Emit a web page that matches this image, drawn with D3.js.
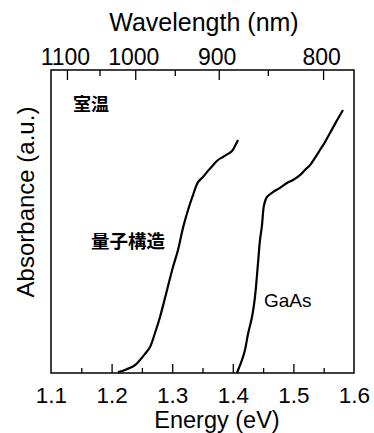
<!DOCTYPE html>
<html><head><meta charset="utf-8">
<script src="https://cdn.jsdelivr.net/npm/d3@7"></script>
<style>
html,body{margin:0;padding:0;background:#fff;}
text{font-family:"Liberation Sans",Arial,sans-serif;fill:#000;}
.cjk{font-family:"Noto Sans CJK JP","Noto Sans CJK SC",sans-serif;font-weight:bold;}
</style></head>
<body>
<svg id="chart" width="374" height="433"></svg>
<script>
// Data (energy in eV, absorbance in arbitrary units 0-100)
const qsEnergy = [1.2106,1.2221,1.2304,1.2386,1.2469,1.2551,1.2634,1.2716,1.2799,1.2898,1.3013,1.3096,1.3178,1.3261,1.3343,1.3426,1.3508,1.3591,1.3673,1.3756,1.3838,1.3921,1.3987,1.4036,1.4086];
const qsAbs    = [0.3,1.0,1.7,2.6,4.3,6.3,8.6,13.2,18.5,26.1,35.0,40.6,47.9,53.8,58.7,63.0,64.7,66.7,68.6,70.3,71.3,72.3,73.3,74.9,76.9];
const gaasEnergy = [1.4069,1.4102,1.4152,1.4201,1.4251,1.4317,1.4366,1.4416,1.4449,1.4482,1.4515,1.4564,1.4663,1.4779,1.4894,1.4993,1.5109,1.5191,1.5274,1.5356,1.5439,1.5521,1.5604,1.5703,1.5818];
const gaasAbs    = [0.0,1.7,4.3,7.6,12.9,18.5,25.1,36.3,43.9,48.8,55.4,58.1,59.7,61.1,62.7,63.7,65.3,67.0,68.6,71.0,73.6,76.2,79.2,82.8,86.8];
const energyTicks = [1.1,1.2,1.3,1.4,1.5,1.6];
const energyMinor = [1.15,1.25,1.35,1.45,1.55];
const wavelengthTicks = [1100,1000,900,800];
const wavelengthMinor = [1050,950,850];
const labels = {qs:"量子構造", gaas:"GaAs", room:"室温"};

const svg = d3.select("#chart");
const L=51,R=354,T=70,B=373;
const x = d3.scaleLinear().domain([1.1,1.6]).range([L,R]);
const y = d3.scaleLinear().domain([0,100]).range([B,T]);
const HC = 1239.84;

// bottom axis ticks (inward)
svg.append("g").attr("transform",`translate(0,${B})`)
  .call(d3.axisBottom(x).tickValues(energyTicks.slice(1,-1)).tickSizeInner(-9).tickSizeOuter(0).tickFormat(""))
  .call(g=>g.select(".domain").remove())
  .call(g=>g.selectAll("line").attr("stroke","#000").attr("stroke-width",1.3));
svg.append("g").attr("transform",`translate(0,${B})`)
  .call(d3.axisBottom(x).tickValues(energyMinor).tickSizeInner(-5).tickSizeOuter(0).tickFormat(""))
  .call(g=>g.select(".domain").remove())
  .call(g=>g.selectAll("line").attr("stroke","#000").attr("stroke-width",1.3));
// bottom labels
svg.append("g").attr("transform",`translate(0,${B})`)
  .call(d3.axisBottom(x).tickValues(energyTicks).tickSize(0).tickPadding(14.5).tickFormat(d3.format(".1f")))
  .call(g=>g.select(".domain").remove())
  .call(g=>g.selectAll("text").attr("font-size",22.5).attr("font-family","Liberation Sans, Arial, sans-serif"));

// top axis (wavelength)
const wx = l => x(HC/l);
svg.append("g").selectAll("line").data(wavelengthTicks).join("line")
  .attr("x1",wx).attr("x2",wx).attr("y1",T).attr("y2",T+10)
  .attr("stroke","#000").attr("stroke-width",1.3);
svg.append("g").selectAll("line").data(wavelengthMinor).join("line")
  .attr("x1",wx).attr("x2",wx).attr("y1",T).attr("y2",T+6)
  .attr("stroke","#000").attr("stroke-width",1.3);
svg.append("g").selectAll("text").data(wavelengthTicks).join("text")
  .attr("x",d=>wx(d)-2).attr("y",65).attr("text-anchor","middle")
  .attr("font-size",23).text(d=>d);

// frame
svg.append("rect").attr("x",L).attr("y",T).attr("width",R-L).attr("height",B-T)
  .attr("fill","none").attr("stroke","#000").attr("stroke-width",1.5);

// curves
const line = d3.line().x(d=>x(d[0])).y(d=>y(d[1])).curve(d3.curveCatmullRom);
svg.append("path").datum(qsEnergy.map((e,i)=>[e,qsAbs[i]]))
  .attr("d",line).attr("fill","none").attr("stroke","#000").attr("stroke-width",2.2);
svg.append("path").datum(gaasEnergy.map((e,i)=>[e,gaasAbs[i]]))
  .attr("d",line).attr("fill","none").attr("stroke","#000").attr("stroke-width",2.2);

// titles
svg.append("text").attr("x",204).attr("y",31).attr("text-anchor","middle").attr("font-size",25).text("Wavelength (nm)");
svg.append("text").attr("x",217).attr("y",428).attr("text-anchor","middle").attr("font-size",23.5).text("Energy (eV)");
svg.append("text").attr("transform","translate(34,202) rotate(-90)").attr("text-anchor","middle").attr("font-size",24).text("Absorbance (a.u.)");

// annotations
svg.append("text").attr("class","cjk").attr("x",73).attr("y",111).attr("font-size",18).text(labels.room);
svg.append("text").attr("class","cjk").attr("x",91).attr("y",248).attr("font-size",18.5).text(labels.qs);
svg.append("text").attr("x",264).attr("y",307).attr("font-size",19).text(labels.gaas);
</script>
</body></html>
